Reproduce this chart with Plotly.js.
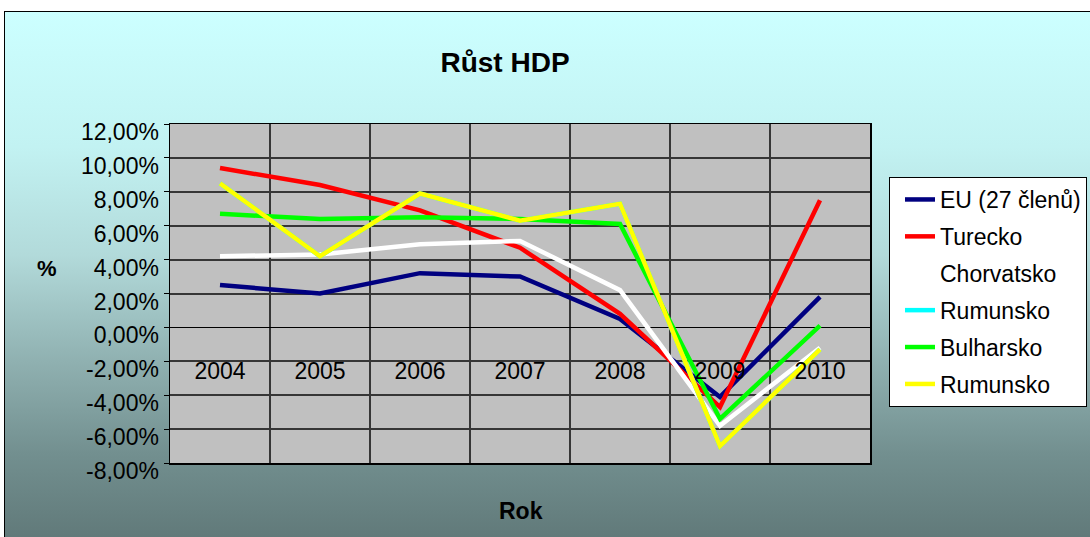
<!DOCTYPE html>
<html>
<head>
<meta charset="utf-8">
<script src="https://cdn.plot.ly/plotly-3.0.1.min.js"></script>
<style>
  html, body { margin: 0; padding: 0; background: #ffffff; width: 1090px; height: 537px; overflow: hidden; }
  #bg { position: absolute; left: 4px; top: 11px; width: 1100px; height: 540px;
        border-left: 1px solid #000; border-top: 1px solid #000;
        background: linear-gradient(to bottom, #ccffff 0%, #c2f2f2 25%, #b2dada 45%, #8fb0b0 65%, #728f8f 82%, #5e7676 100%); }
  #chart { position: absolute; left: 0; top: 0; width: 1090px; height: 537px; }
</style>
</head>
<body>
<div id="bg"></div>
<div id="chart"></div>
<script>
const years = ['2004', '2005', '2006', '2007', '2008', '2009', '2010'];
const seriesNames = ['EU (27 členů)', 'Turecko', 'Chorvatsko', 'Rumunsko', 'Bulharsko', 'Rumunsko'];
const seriesColors = ['#000080', '#ff0000', '#ffffff', '#00ffff', '#00ff00', '#ffff00'];
const eu27 = [2.5, 2.0, 3.2, 3.0, 0.5, -4.1, 1.8];
const turecko = [9.4, 8.4, 6.9, 4.7, 0.8, -4.7, 7.5];
const chorvatsko = [4.2, 4.3, 4.9, 5.1, 2.2, -5.8, -1.2];
const rumunskoA = [8.5, 4.2, 7.9, 6.3, 7.3, -7.0, -1.3];
const bulharsko = [6.7, 6.4, 6.5, 6.4, 6.1, -5.4, 0.1];
const rumunskoB = [8.5, 4.2, 7.9, 6.3, 7.3, -7.0, -1.3];
const yTicks = [-8, -6, -4, -2, 0, 2, 4, 6, 8, 10, 12];
const yTickLabels = ['-8,00%', '-6,00%', '-4,00%', '-2,00%', '0,00%', '2,00%', '4,00%', '6,00%', '8,00%', '10,00%', '12,00%'];

const allValues = [eu27, turecko, chorvatsko, rumunskoA, bulharsko, rumunskoB];
const FONT = 'Liberation Sans, Arial, sans-serif';

const traces = allValues.map((vals, i) => ({
  type: 'scatter',
  mode: 'lines',
  x: years,
  y: vals,
  name: seriesNames[i],
  legendgroup: 'g' + i,
  line: { color: seriesColors[i], width: 4.5 },
  hoverinfo: 'x+y+name'
}));

const layout = {
  width: 1090,
  height: 537,
  paper_bgcolor: 'rgba(0,0,0,0)',
  plot_bgcolor: '#c0c0c0',
  margin: { l: 170, r: 220, t: 124, b: 74, autoexpand: false },
  font: { family: FONT, size: 23, color: '#000' },
  title: {
    text: '<b>Růst HDP</b>',
    font: { family: FONT, size: 28, color: '#000' },
    xref: 'paper', x: 0.4786, xanchor: 'center',
    yref: 'container', y: 1 - 62 / 537, yanchor: 'middle'
  },
  xaxis: {
    type: 'category',
    range: [-0.5, 6.5],
    tickson: 'boundaries',
    showgrid: true,
    gridcolor: '#363636',
    gridwidth: 2,
    showline: true,
    linecolor: '#000',
    linewidth: 1.5,
    mirror: true,
    ticks: '',
    ticklabelstandoff: -113,
    tickfont: { family: FONT, size: 23, color: '#000' }
  },
  yaxis: {
    range: [-8, 12],
    tickvals: yTicks,
    ticktext: yTickLabels,
    showgrid: true,
    gridcolor: '#363636',
    gridwidth: 2,
    zeroline: true,
    zerolinecolor: '#000',
    zerolinewidth: 1,
    showline: true,
    linecolor: '#000',
    linewidth: 1.5,
    mirror: true,
    ticks: 'outside',
    ticklen: 5,
    tickcolor: '#000',
    ticklabelshift: 8,
    tickfont: { family: FONT, size: 23, color: '#000' }
  },
  annotations: [{
    text: '<b>%</b>', xref: 'paper', yref: 'paper',
    x: (47 - 170) / 700, y: (463 - 268) / 339,
    xanchor: 'center', yanchor: 'middle', showarrow: false,
    font: { family: FONT, size: 22, color: '#000' }
  }, {
    text: '<b>Rok</b>', xref: 'paper', yref: 'paper',
    x: (521 - 170) / 700, y: (463 - 511) / 339,
    xanchor: 'center', yanchor: 'middle', showarrow: false,
    font: { family: FONT, size: 23, color: '#000' }
  }],
  showlegend: true,
  legend: {
    x: (889 - 170) / 700, xanchor: 'left',
    y: (463 - 177) / 339, yanchor: 'top',
    bgcolor: '#ffffff',
    bordercolor: '#000',
    borderwidth: 1,
    traceorder: 'grouped',
    tracegroupgap: 4,
    indentation: 10,
    font: { family: FONT, size: 23, color: '#000' }
  }
};

Plotly.newPlot('chart', traces, layout, { displayModeBar: false, staticPlot: true });
</script>
</body>
</html>
